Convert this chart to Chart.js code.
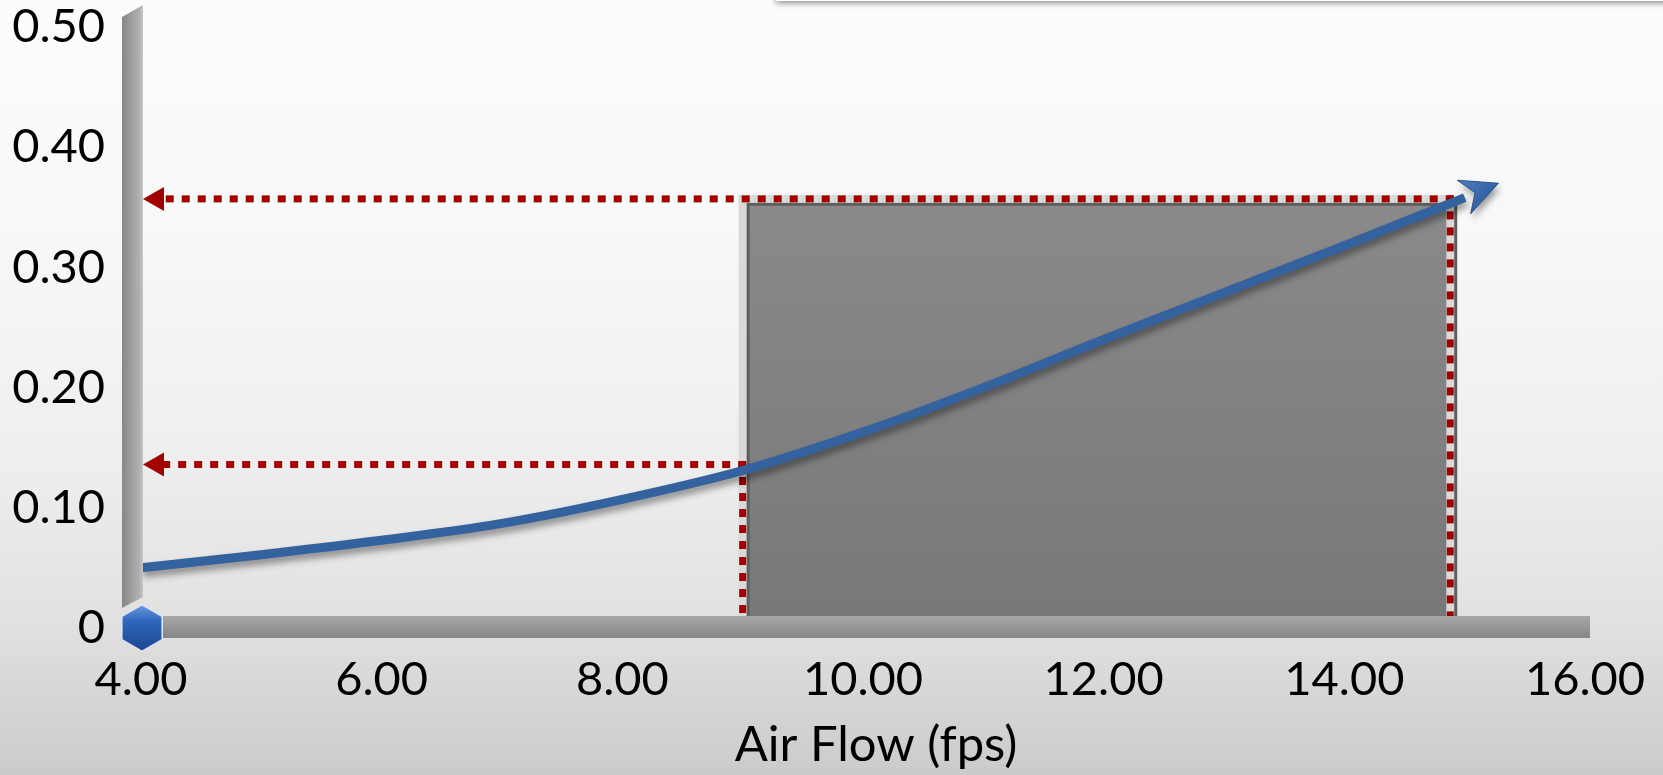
<!DOCTYPE html>
<html>
<head>
<meta charset="utf-8">
<script src="https://cdn.jsdelivr.net/npm/chart.js@4/dist/chart.umd.min.js"></script>
<style>
  html, body { margin: 0; padding: 0; background: #fff; }
  canvas { display: block; }
</style>
</head>
<body>
<canvas id="c" width="1663" height="775"></canvas>
<script>
// Pressure-drop curve against air flow
const airFlow      = [4.0, 5.0, 6.0, 7.0, 8.0, 9.0, 10.0, 11.0, 12.0, 13.0, 14.0, 15.0];
const pressureDrop = [0.050, 0.061, 0.073, 0.087, 0.107, 0.131, 0.163, 0.200, 0.240, 0.279, 0.318, 0.358];
const arrowTip     = [15.28, 0.370];

// Operating range: read-off points (air flow, pressure drop)
const readFlow = [9.0, 14.88];
const readDrop = [0.136, 0.357];

const xTickValues = [4, 6, 8, 10, 12, 14, 16];
const xTickLabels = ['4.00', '6.00', '8.00', '10.00', '12.00', '14.00', '16.00'];
const yTickValues = [0, 0.1, 0.2, 0.3, 0.4, 0.5];
const yTickLabels = ['0', '0.10', '0.20', '0.30', '0.40', '0.50'];
const xTitle = 'Air Flow (fps)';

const FONT = "Lato, 'Open Sans', 'Liberation Sans', sans-serif";
const FONT_SIZE = 47;

function labelFor(values, labels, v) {
  const i = values.findIndex(t => Math.abs(t - v) < 1e-6);
  return i >= 0 ? labels[i] : '';
}

function dotted(ctx, x1, y1, x2, y2) {
  ctx.save();
  ctx.strokeStyle = '#a30000';
  ctx.lineWidth = 7;
  ctx.lineCap = 'butt';
  ctx.setLineDash([8, 8]);
  ctx.beginPath();
  ctx.moveTo(x1, y1);
  ctx.lineTo(x2, y2);
  ctx.stroke();
  ctx.restore();
}

function leftArrow(ctx, x, y) {
  ctx.save();
  ctx.fillStyle = '#a30000';
  ctx.beginPath();
  ctx.moveTo(x, y);
  ctx.lineTo(x + 21, y - 12);
  ctx.lineTo(x + 21, y + 12);
  ctx.closePath();
  ctx.fill();
  ctx.restore();
}

const decor = {
  id: 'decor',
  beforeDraw(chart) {
    const { ctx, width, height } = chart;
    ctx.save();
    const bg = ctx.createLinearGradient(0, 0, 0, height);
    bg.addColorStop(0, '#fcfcfc');
    bg.addColorStop(0.3, '#f8f8f8');
    bg.addColorStop(0.6, '#eeeeee');
    bg.addColorStop(0.8, '#e1e1e1');
    bg.addColorStop(1, '#cbcbcb');
    ctx.fillStyle = bg;
    ctx.fillRect(0, 0, width, height);
    // panel edge along the top right
    ctx.shadowColor = 'rgba(0,0,0,0.45)';
    ctx.shadowBlur = 6;
    ctx.shadowOffsetY = 2;
    ctx.fillStyle = '#ffffff';
    ctx.fillRect(776, -40, width, 41);
    ctx.restore();
  },
  beforeDatasetsDraw(chart) {
    const { ctx, chartArea, scales } = chart;
    const x = scales.x, y = scales.y;
    const axisTop = chartArea.bottom - 12;
    const xL = x.getPixelForValue(readFlow[0]);
    const xR = x.getPixelForValue(readFlow[1]);
    const yT = y.getPixelForValue(readDrop[1]);
    ctx.save();
    // operating zone box
    ctx.fillStyle = '#d9d9d9';
    ctx.fillRect(xL - 4, yT - 4, xR - xL + 8, axisTop - yT + 4);
    ctx.fillStyle = '#5e5e5e';
    ctx.fillRect(xL + 4, yT + 4, xR - xL + 3, axisTop - yT - 4);
    const g = ctx.createLinearGradient(0, yT, 0, axisTop);
    g.addColorStop(0, '#8a8a8a');
    g.addColorStop(1, '#787878');
    ctx.fillStyle = g;
    ctx.fillRect(xL + 7, yT + 7, xR - xL - 11, axisTop - yT - 7);
    ctx.fillStyle = '#d9d9d9';
    ctx.fillRect(xR - 4, yT + 7, 8, axisTop - yT - 7);
    ctx.restore();

    // read-off guides
    const arrowX = chartArea.left + 2;
    for (let i = 0; i < readFlow.length; i++) {
      const px = x.getPixelForValue(readFlow[i]);
      const py = y.getPixelForValue(readDrop[i]);
      dotted(ctx, px, py - 3.5, px, axisTop);
      dotted(ctx, px + 3.5, py, arrowX + 21, py);
      leftArrow(ctx, arrowX, py);
    }
  },
  beforeDatasetDraw(chart, args) {
    if (args.index === 0) {
      const ctx = chart.ctx;
      ctx.save();
      ctx.shadowColor = 'rgba(0,0,0,0.4)';
      ctx.shadowBlur = 7;
      ctx.shadowOffsetX = 2;
      ctx.shadowOffsetY = 5;
    }
  },
  afterDatasetDraw(chart, args) {
    if (args.index === 0) chart.ctx.restore();
  },
  afterDatasetsDraw(chart) {
    const { ctx, chartArea, scales } = chart;
    const x = scales.x, y = scales.y;
    const n = airFlow.length;
    // arrow head at the end of the curve
    const tx = x.getPixelForValue(arrowTip[0]);
    const ty = y.getPixelForValue(arrowTip[1]);
    const ax = x.getPixelForValue(airFlow[n - 2]), ay = y.getPixelForValue(pressureDrop[n - 2]);
    const bx = x.getPixelForValue(airFlow[n - 1]), by = y.getPixelForValue(pressureDrop[n - 1]);
    let ux = bx - ax, uy = by - ay;
    const len = Math.hypot(ux, uy);
    ux /= len; uy /= len;
    const nx = -uy, ny = ux;
    const L = 37, W = 18, notch = 25;
    ctx.save();
    ctx.shadowColor = 'rgba(0,0,0,0.4)';
    ctx.shadowBlur = 7;
    ctx.shadowOffsetX = 2;
    ctx.shadowOffsetY = 5;
    const hg = ctx.createLinearGradient(tx - L, ty - W, tx, ty + W);
    hg.addColorStop(0, '#5285c8');
    hg.addColorStop(1, '#2d5a98');
    ctx.fillStyle = hg;
    ctx.beginPath();
    ctx.moveTo(tx, ty);
    ctx.lineTo(tx - ux * L + nx * W, ty - uy * L + ny * W);
    ctx.lineTo(tx - ux * notch, ty - uy * notch);
    ctx.lineTo(tx - ux * L - nx * W, ty - uy * L - ny * W);
    ctx.closePath();
    ctx.fill();
    ctx.shadowColor = 'transparent';
    ctx.strokeStyle = '#2a5088';
    ctx.lineWidth = 1;
    ctx.stroke();
    ctx.restore();

    // vertical axis wall
    const wl = chartArea.left - 19, wr = chartArea.left + 2;
    const top = chartArea.top, bot = chartArea.bottom;
    ctx.save();
    const wg = ctx.createLinearGradient(wl, 0, wr, 0);
    wg.addColorStop(0, '#878787');
    wg.addColorStop(0.85, '#b2b2b2');
    wg.addColorStop(1, '#c8c8c8');
    ctx.fillStyle = wg;
    ctx.beginPath();
    ctx.moveTo(wl, top - 10);
    ctx.lineTo(wr, top - 22);
    ctx.lineTo(wr, bot - 31);
    ctx.lineTo(wl, bot - 20);
    ctx.closePath();
    ctx.fill();

    // horizontal axis floor
    const fl = chartArea.left + 22, fr = chartArea.right + 5;
    const fg = ctx.createLinearGradient(0, bot - 12, 0, bot + 10);
    fg.addColorStop(0, '#a8a8a8');
    fg.addColorStop(1, '#858585');
    ctx.fillStyle = fg;
    ctx.fillRect(fl, bot - 12, fr - fl, 22);

    // origin marker
    const cx = chartArea.left + 1, cy = bot, r = 23;
    const hx = ctx.createLinearGradient(0, cy - r, 0, cy + r);
    hx.addColorStop(0, '#6a9ade');
    hx.addColorStop(0.35, '#2f66bb');
    hx.addColorStop(1, '#1b4690');
    ctx.fillStyle = hx;
    ctx.beginPath();
    for (let k = 0; k < 6; k++) {
      const a = -Math.PI / 2 + k * Math.PI / 3;
      const px = cx + r * Math.cos(a), py = cy + r * Math.sin(a);
      if (k === 0) ctx.moveTo(px, py); else ctx.lineTo(px, py);
    }
    ctx.closePath();
    ctx.fill();
    ctx.strokeStyle = 'rgba(230,236,245,0.8)';
    ctx.lineWidth = 1.2;
    ctx.stroke();

    // axis title, set a little right of the axis centre
    ctx.fillStyle = '#000';
    ctx.font = `49px ${FONT}`;
    ctx.textAlign = 'center';
    ctx.textBaseline = 'middle';
    ctx.fillText(xTitle, (chartArea.left + chartArea.right) / 2 + 13, bot + 117);
    ctx.restore();
  }
};

const points = airFlow.map((v, i) => ({ x: v, y: pressureDrop[i] }));

function noEdgePadding(s) {
  s.paddingTop = 0; s.paddingBottom = 0;
  s.paddingLeft = 0; s.paddingRight = 0;
}

new Chart(document.getElementById('c'), {
  type: 'line',
  data: {
    datasets: [
      {
        data: points,
        borderColor: '#34629f',
        borderWidth: 9,
        pointRadius: 0,
        cubicInterpolationMode: 'monotone',
        borderCapStyle: 'butt'
      },
      {
        data: points,
        borderColor: '#4e82c8',
        borderWidth: 5,
        pointRadius: 0,
        cubicInterpolationMode: 'monotone',
        borderCapStyle: 'butt'
      }
    ]
  },
  options: {
    responsive: false,
    animation: false,
    devicePixelRatio: 1,
    layout: { padding: { top: 27, right: 78, left: 0, bottom: 0 } },
    plugins: { legend: { display: false }, tooltip: { enabled: false } },
    scales: {
      x: {
        type: 'linear',
        min: 4, max: 16,
        afterFit(s) { s.height = 147; noEdgePadding(s); },
        afterBuildTicks(s) { s.ticks = xTickValues.map(v => ({ value: v })); },
        grid: { display: false, drawTicks: false },
        border: { display: false },
        ticks: {
          padding: 24,
          color: '#000',
          font: { family: FONT, size: FONT_SIZE },
          maxRotation: 0,
          callback: v => labelFor(xTickValues, xTickLabels, v)
        },
        title: { display: false }
      },
      y: {
        min: 0, max: 0.5,
        afterFit(s) { s.width = 141; noEdgePadding(s); },
        afterBuildTicks(s) { s.ticks = yTickValues.map(v => ({ value: v })); },
        grid: { display: false, drawTicks: false },
        border: { display: false },
        ticks: {
          padding: 36,
          color: '#000',
          font: { family: FONT, size: FONT_SIZE },
          callback: v => labelFor(yTickValues, yTickLabels, v)
        }
      }
    }
  },
  plugins: [decor]
});
</script>
</body>
</html>
